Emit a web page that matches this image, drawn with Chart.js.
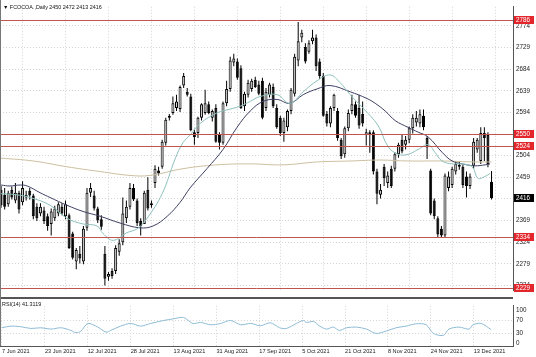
<!DOCTYPE html>
<html><head><meta charset="utf-8">
<script src="https://cdn.jsdelivr.net/npm/chart.js@4.4.0/dist/chart.umd.min.js"></script>
<style>
html,body{margin:0;padding:0;background:#fff;}
#wrap{position:relative;width:536px;height:357px;overflow:hidden;background:#fff;font-family:'Liberation Sans',Arial,sans-serif;}
.lbl{position:absolute;font-size:5.4px;color:#111;white-space:pre;}
</style></head><body>
<div id="wrap">
<div style="position:absolute;left:0;top:0;width:536px;height:297px"><canvas id="c1" width="536" height="297"></canvas></div>
<div style="position:absolute;left:0;top:297px;width:513px;height:2px;background:#555"></div>
<div style="position:absolute;left:0;top:0;width:1px;height:347px;background:#777"></div>
<div style="position:absolute;left:0;top:299px;width:536px;height:58px"><canvas id="c2" width="536" height="58"></canvas></div>
<div class="lbl" style="left:3px;top:4px">▼ FCOCOA.,Daily 2450 2472 2413 2416</div>
<div class="lbl" style="left:2px;top:301px">RSI(14) 41.3119</div>
</div>
<script>
// ---- data ----
const opens  = [2433,2423,2403,2433,2411,2427,2407,2417,2431,2421,2398,2384,2390,2378,2362,2374,2384,2398,2378,2380,2342,2284,2300,2284,2354,2427,2421,2394,2372,2300,2252,2264,2264,2304,2324,2374,2398,2437,2411,2368,2362,2433,2405,2447,2473,2481,2531,2587,2593,2603,2601,2650,2637,2627,2553,2551,2583,2593,2611,2583,2603,2547,2531,2613,2643,2698,2700,2686,2607,2631,2643,2662,2652,2660,2603,2631,2647,2603,2583,2551,2563,2597,2633,2702,2750,2730,2720,2742,2750,2700,2670,2591,2571,2603,2597,2537,2507,2561,2597,2611,2603,2591,2547,2549,2553,2471,2423,2481,2447,2477,2477,2507,2537,2527,2537,2561,2573,2571,2587,2541,2473,2411,2374,2352,2338,2437,2443,2471,2485,2481,2461,2441,2483,2517,2493,2551,2547,2450];
const highs  = [2441,2437,2431,2440,2447,2431,2451,2431,2437,2425,2405,2405,2398,2384,2394,2400,2407,2405,2411,2384,2346,2312,2316,2358,2437,2447,2431,2398,2380,2316,2262,2270,2318,2330,2417,2411,2447,2445,2415,2374,2431,2459,2411,2484,2481,2537,2583,2591,2627,2631,2650,2676,2645,2633,2560,2585,2613,2641,2617,2600,2611,2553,2617,2660,2710,2716,2706,2692,2637,2662,2664,2668,2660,2666,2645,2656,2654,2611,2587,2583,2600,2645,2716,2782,2766,2738,2744,2766,2756,2706,2676,2597,2607,2633,2603,2541,2565,2600,2631,2617,2631,2617,2560,2557,2557,2477,2445,2487,2471,2483,2511,2531,2547,2545,2565,2590,2597,2600,2600,2545,2477,2415,2378,2358,2467,2471,2481,2493,2493,2485,2471,2467,2541,2541,2563,2563,2553,2472];
const lows   = [2396,2392,2398,2413,2405,2384,2401,2411,2413,2372,2368,2378,2362,2348,2338,2368,2378,2380,2372,2310,2288,2268,2280,2278,2348,2418,2390,2364,2350,2234,2244,2248,2258,2296,2318,2364,2392,2410,2358,2338,2362,2390,2396,2437,2463,2477,2525,2577,2589,2597,2595,2645,2627,2555,2527,2541,2577,2589,2590,2575,2531,2517,2527,2607,2637,2690,2662,2601,2597,2625,2637,2645,2630,2580,2597,2625,2603,2560,2545,2533,2555,2590,2627,2690,2740,2696,2716,2736,2680,2664,2585,2565,2563,2597,2535,2497,2500,2555,2590,2583,2560,2565,2525,2510,2465,2403,2415,2441,2437,2437,2471,2500,2509,2517,2530,2550,2565,2563,2557,2497,2380,2372,2334,2334,2334,2430,2437,2465,2475,2437,2417,2435,2477,2510,2487,2493,2480,2413];
const closes = [2401,2398,2427,2417,2427,2392,2437,2423,2421,2378,2374,2398,2368,2358,2388,2394,2403,2384,2403,2312,2292,2308,2290,2352,2427,2437,2394,2370,2356,2248,2258,2254,2312,2322,2384,2398,2437,2413,2364,2358,2427,2394,2401,2477,2467,2533,2579,2583,2613,2617,2647,2670,2631,2557,2543,2583,2611,2613,2593,2597,2533,2531,2613,2643,2702,2706,2666,2603,2633,2656,2660,2647,2633,2583,2637,2652,2607,2563,2551,2577,2597,2641,2710,2742,2760,2700,2738,2750,2690,2670,2587,2571,2603,2631,2541,2503,2561,2593,2611,2587,2567,2571,2553,2553,2471,2425,2433,2457,2463,2441,2507,2527,2513,2537,2561,2583,2583,2590,2563,2521,2384,2378,2340,2338,2463,2461,2477,2487,2481,2443,2441,2461,2533,2537,2551,2541,2487,2416];

const dateTicks   = ["7 Jun 2021","23 Jun 2021","12 Jul 2021","28 Jul 2021","13 Aug 2021","31 Aug 2021","17 Sep 2021","5 Oct 2021","21 Oct 2021","8 Nov 2021","24 Nov 2021","13 Dec 2021"];
const dateTickBar = [0,12,24,36,48,60,72,84,96,108,120,132];
const priceTicks  = [2234,2279,2324,2369,2414,2459,2504,2549,2594,2639,2684,2729,2774];
const rsiTicks    = [0,30,70,100];
const levelLines  = [2786,2550,2524,2334,2229];
const lastPrice   = 2416;

const maFastBar = [0,4,8.1,13.7,18.4,22.9,26.8,28.5,31.3,35.2,38,40.8,45,48.6,50.8,52.8,55.6,60.3,64,66.8,69.6,72.3,77.1,80.7,84.4,88.3,91.9,94.7,97.5,101.1,105.3,108.1,110.9,113.7,116.5,119.3,121.2,123.2,126,128.8,131.6,133.2,135.2,136.6];
const maFastVal = [2425,2423,2417,2401,2374,2362,2358,2342,2328,2344,2352,2374,2425,2497,2531,2547,2571,2593,2601,2607,2617,2627,2631,2613,2637,2660,2672,2656,2631,2603,2567,2523,2507,2507,2517,2527,2511,2493,2487,2487,2481,2457,2461,2467];
const maMidBar  = [0,2.5,5.3,7.3,10.9,13.7,18.4,22.9,27.7,33.2,38.8,42.5,46.4,50,52.8,57.5,62,65.9,69.6,73.2,77.1,80.7,84.4,88.3,91.9,97.5,102.2,104.5,107.3,110.1,113.7,116.5,119.3,123.2,126,128.8,132.4,135.2,136.6];
const maMidVal  = [2443,2441,2443,2441,2427,2417,2401,2388,2378,2364,2354,2358,2378,2407,2437,2477,2517,2563,2597,2617,2621,2613,2631,2643,2650,2637,2623,2613,2597,2577,2563,2553,2543,2511,2493,2487,2483,2485,2487];
const maSlowBar = [0,9,18.4,27.7,36,41.6,50.8,60.3,69.6,78.8,88.3,97.5,105.9,113.7,123.2,132.4,137];
const maSlowVal = [2499,2493,2481,2471,2463,2463,2477,2485,2487,2485,2491,2493,2495,2493,2493,2491,2491];
const rsiBar = [0,2.5,5.3,8.1,10.9,13.7,16.5,19.3,20.7,22.1,24,26.8,29.1,30.4,33.2,36,38.8,41.6,45.3,48,50.8,53.4,55.6,58.4,61.2,64,66.8,69.6,72.3,75.1,77.7,79.6,82.4,84.4,85.2,87.2,88.8,90.8,92.7,94.4,96.4,99.2,102,104.7,107.5,110.3,113.1,115.9,118.7,120.7,123.5,125.1,127.9,130.7,131.8,134.1,136.9];
const rsiVal = [47,52,50,45,47,43,47,39,32,37,60,49,34,39,52,60,52,60,69,74,78,60,63,56,60,69,56,60,53,62,47,45,60,69,63,66,53,43,49,39,47,49,43,30,37,47,52,59,56,30,24,43,49,43,56,60,41.3];

// ---- build ----
const X_MIN = -0.3, X_MAX = 143.0;
const bars = opens.map((_, i) => i);
const wickData = bars.map(i => ({x: i, y: [lows[i], highs[i]]}));
const bodyData = bars.map(i => {
  let a = Math.min(opens[i], closes[i]), b = Math.max(opens[i], closes[i]);
  if (b - a < 2) { a -= 1; b += 1; }
  return {x: i, y: [a, b]};
});
const bodyFill = bars.map(i => closes[i] >= opens[i] ? '#d6d6d6' : '#000');
const pts = (xs, ys) => xs.map((x, k) => ({x, y: ys[k]}));
const FONT = {family: "'Liberation Sans', Arial, sans-serif", size: 6.3};
const DFONT = {family: "'Liberation Sans', Arial, sans-serif", size: 5.6};
const GRID = '#d4d4d4';

// horizontal levels and right-hand price labels, placed through the y scale
const levelPlugin = {
  id: 'levels',
  afterDatasetsDraw(chart) {
    const ys = chart.scales.y, ctx = chart.ctx, a = chart.chartArea;
    ctx.save();
    ctx.strokeStyle = '#c0544e'; ctx.lineWidth = 1;
    levelLines.forEach(v => {
      const y = Math.round(ys.getPixelForValue(v)) + 0.5;
      ctx.beginPath(); ctx.moveTo(a.left, y); ctx.lineTo(a.right, y); ctx.stroke();
    });
    ctx.restore();
  },
  afterDraw(chart) {
    const ys = chart.scales.y, ctx = chart.ctx, x0 = chart.chartArea.right + 1;
    ctx.save();
    ctx.font = "6.3px 'Liberation Sans', Arial, sans-serif";
    ctx.textBaseline = 'middle'; ctx.textAlign = 'left';
    const draw = (v, bg) => {
      const y = Math.round(ys.getPixelForValue(v));
      ctx.fillStyle = bg; ctx.fillRect(x0, y - 4, 20, 8);
      ctx.fillStyle = '#fff'; ctx.fillText(String(v), x0 + 2, y + 0.5);
    };
    levelLines.forEach(v => draw(v, '#e3262b'));
    draw(lastPrice, '#000');
    ctx.restore();
  }
};

new Chart(document.getElementById('c1'), {
  type: 'bar',
  data: {
    datasets: [
      {type: 'line', data: pts(maFastBar, maFastVal), borderColor: '#8cc0bc', borderWidth: 1, pointRadius: 0, tension: 0.4},
      {type: 'line', data: pts(maMidBar, maMidVal), borderColor: '#3e3f63', borderWidth: 1, pointRadius: 0, tension: 0.4},
      {type: 'line', data: pts(maSlowBar, maSlowVal), borderColor: '#cbbf9f', borderWidth: 1, pointRadius: 0, tension: 0.4},
      {type: 'bar', data: bodyData, backgroundColor: bodyFill, borderColor: '#000', borderWidth: 1, borderSkipped: false, barThickness: 3, grouped: false, inflateAmount: 0},
      {type: 'bar', data: wickData, backgroundColor: '#000', barThickness: 1, grouped: false, inflateAmount: 0}
    ]
  },
  options: {
    responsive: false, animation: false, events: [], devicePixelRatio: 1,
    layout: {padding: {top: 1, left: 0, right: 0, bottom: 0}},
    plugins: {legend: {display: false}, tooltip: {enabled: false}},
    scales: {
      x: {
        type: 'linear', min: X_MIN, max: X_MAX, offset: false,
        afterBuildTicks: s => { s.ticks = dateTickBar.map(v => ({value: v})); },
        afterFit: s => { s.height = 0; },
        ticks: {display: false},
        grid: {color: GRID, drawTicks: false},
        border: {display: false, dash: [1, 2]}
      },
      y: {
        position: 'right', min: 2224.2, max: 2813.8,
        afterBuildTicks: s => { s.ticks = priceTicks.map(v => ({value: v})); },
        afterFit: s => { s.width = 23; },
        ticks: {font: FONT, color: '#222', padding: 3, callback: v => String(v)},
        grid: {color: GRID, drawTicks: false},
        border: {display: true, color: '#555', dash: [1, 2]}
      }
    }
  },
  plugins: [levelPlugin]
});

new Chart(document.getElementById('c2'), {
  type: 'line',
  data: {
    datasets: [
      {data: pts(rsiBar, rsiVal), borderColor: '#8fbcd6', borderWidth: 1, pointRadius: 0, tension: 0.3}
    ]
  },
  options: {
    responsive: false, animation: false, events: [], devicePixelRatio: 1,
    layout: {padding: {top: 1, left: 0, right: 0, bottom: 0}},
    plugins: {legend: {display: false}, tooltip: {enabled: false}},
    scales: {
      x: {
        type: 'linear', min: X_MIN, max: X_MAX, offset: false,
        afterBuildTicks: s => { s.ticks = dateTickBar.map(v => ({value: v})); },
        afterFit: s => { s.height = 11; },
        ticks: {font: DFONT, color: '#222', align: 'start', padding: 2, autoSkip: false, maxRotation: 0,
                callback: v => dateTicks[dateTickBar.indexOf(v)]},
        grid: {color: GRID, drawTicks: false},
        border: {display: true, color: '#555', dash: [1, 2]}
      },
      y: {
        position: 'right', min: -7.9, max: 113.2,
        afterBuildTicks: s => { s.ticks = rsiTicks.map(v => ({value: v})); },
        afterFit: s => { s.width = 23; },
        ticks: {font: FONT, color: '#222', padding: 3, callback: v => String(v)},
        grid: {color: ctx => (ctx.tick && (ctx.tick.value === 30 || ctx.tick.value === 70)) ? GRID : 'rgba(0,0,0,0)', drawTicks: false},
        border: {display: true, color: '#555', dash: [1, 2]}
      }
    }
  }
});
</script>
</body></html>
